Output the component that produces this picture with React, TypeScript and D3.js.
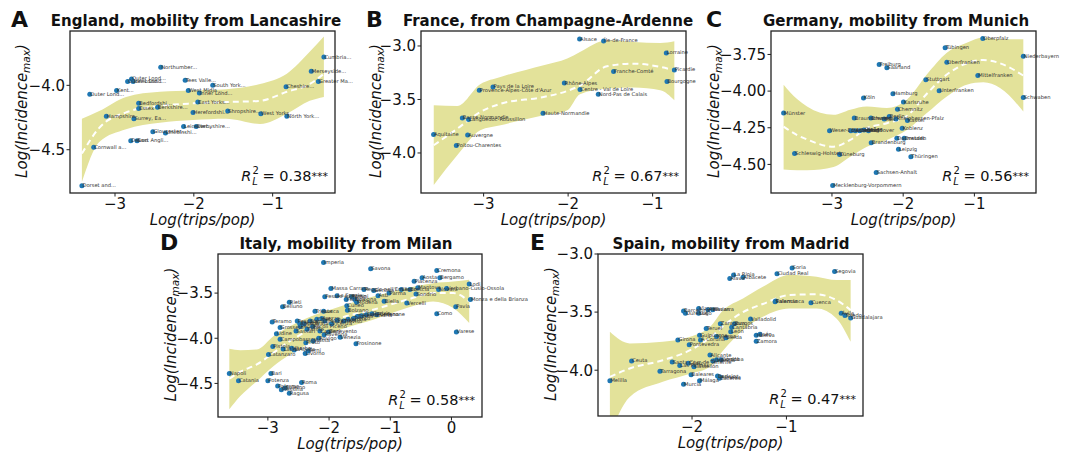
import * as d3 from "d3";
import React, { useEffect, useRef } from "react";

// [name, log(trips/pop), log(incidence max)]
type Pt = [string, number, number];
// [x, lower, mean, upper] of the smoothed fit
type Fit = [number, number, number, number];

const englandPoints: Pt[] = [
  ["Dorset and...", -3.42, -4.78],
  ["Cornwall a...", -3.27, -4.48],
  ["Outer Lond...", -3.32, -4.07],
  ["Hampshire", -3.11, -4.24],
  ["Kent...", -2.98, -4.04],
  ["Outer Lond...", -2.79, -3.95],
  ["Outer Lond...", -2.84, -3.97],
  ["Inner Lond...", -2.77, -3.97],
  ["Devon", -2.8, -4.43],
  ["East Angli...", -2.72, -4.43],
  ["Bedfordshi...", -2.7, -4.14],
  ["Essex", -2.7, -4.18],
  ["Surrey, Ea...", -2.76, -4.26],
  ["Berkshire...", -2.46, -4.17],
  ["Gloucester...", -2.52, -4.36],
  ["Lincolnshi...", -2.36, -4.37],
  ["Northumber...", -2.42, -3.86],
  ["Leicester...", -2.13, -4.32],
  ["Derbyshire...", -1.97, -4.32],
  ["Tees Valle...", -2.11, -3.96],
  ["West Midla...", -2.07, -4.04],
  ["Inner Lond...", -1.93, -4.06],
  ["South York...", -1.76, -4.0],
  ["East Yorks...", -1.95, -4.13],
  ["Herefordshi...", -2.01, -4.21],
  ["Shropshire...", -1.57, -4.2],
  ["West Yorks...", -1.15, -4.22],
  ["North York...", -0.82, -4.24],
  ["Cheshire...", -0.83, -4.01],
  ["Merseyside...", -0.51, -3.89],
  ["Greater Ma...", -0.42, -3.97],
  ["Cumbria...", -0.35, -3.78],
];
const englandFit: Fit[] = [
  [-3.42, -4.75, -4.53, -4.26],
  [-3.2, -4.44, -4.33, -4.2],
  [-2.86, -4.34, -4.21, -4.09],
  [-2.43, -4.29, -4.16, -4.05],
  [-2.01, -4.27, -4.14, -4.04],
  [-1.59, -4.26, -4.13, -4.03],
  [-1.16, -4.3, -4.12, -3.99],
  [-0.82, -4.22, -4.05, -3.91],
  [-0.53, -4.12, -3.99, -3.74],
  [-0.35, -4.09, -3.91, -3.62],
];

const francePoints: Pt[] = [
  ["Alsace", -1.864, -2.935],
  ["Île-de-France", -1.58, -2.953],
  ["Lorraine", -0.838, -3.065],
  ["Picardie", -0.743, -3.224],
  ["Franche-Comté", -1.462, -3.239],
  ["Bourgogne", -0.83, -3.333],
  ["Rhône-Alpes", -2.045, -3.346],
  ["Centre - Val de Loire", -1.859, -3.407],
  ["Nord-Pas de Calais", -1.643, -3.451],
  ["Pays de la Loire", -2.889, -3.383],
  ["Provence-Alpes-Côte d'Azur", -3.051, -3.414],
  ["Haute-Normandie", -2.297, -3.629],
  ["Basse-Normandie", -3.252, -3.673],
  ["Languedoc-Roussillon", -3.178, -3.688],
  ["Aquitaine", -3.592, -3.828],
  ["Auvergne", -3.189, -3.832],
  ["Poitou-Charentes", -3.323, -3.931],
];
const franceFit: Fit[] = [
  [-3.59, -4.3, -3.928, -3.554],
  [-3.31, -4.02, -3.772, -3.56],
  [-3.04, -3.788, -3.617, -3.358],
  [-2.8, -3.74, -3.54, -3.29],
  [-2.29, -3.648, -3.477, -3.18],
  [-2.01, -3.6, -3.42, -3.118],
  [-1.86, -3.45, -3.37, -3.056],
  [-1.54, -3.398, -3.19, -2.947],
  [-1.225, -3.389, -3.165, -2.963],
  [-0.909, -3.414, -3.196, -2.972],
  [-0.743, -3.507, -3.227, -2.956],
];

const germanyPoints: Pt[] = [
  ["Oberpfalz", -0.882, -3.642],
  ["Tübingen", -1.411, -3.704],
  ["Niederbayern", -0.313, -3.762],
  ["Oberfranken", -1.387, -3.803],
  ["Freiburg", -2.337, -3.819],
  ["Saarland", -2.229, -3.841],
  ["Mittelfranken", -0.952, -3.894],
  ["Stuttgart", -1.682, -3.922],
  ["Unterfranken", -1.495, -3.997],
  ["Hamburg", -2.144, -4.018],
  ["Köln", -2.557, -4.047],
  ["Schwaben", -0.313, -4.043],
  ["Karlsruhe", -1.996, -4.075],
  ["Chemnitz", -2.08, -4.123],
  ["Münster", -3.679, -4.15],
  ["Braunschweig", -2.687, -4.184],
  ["Bremen", -2.453, -4.184],
  ["Trier", -2.266, -4.191],
  ["Berlin", -2.196, -4.173],
  ["Rheinhessen-Pfalz", -2.1, -4.19],
  ["Kassel", -1.94, -4.201],
  ["Koblenz", -2.014, -4.253],
  ["Weser-Ems", -3.034, -4.27],
  ["Düsseldorf", -2.734, -4.27],
  ["Arnsberg", -2.673, -4.27],
  ["Detmold", -2.61, -4.27],
  ["Gießen", -2.55, -4.265],
  ["Hannover", -2.487, -4.27],
  ["Darmstadt", -2.089, -4.322],
  ["Dresden", -1.986, -4.322],
  ["Brandenburg", -2.449, -4.352],
  ["Leipzig", -2.066, -4.397],
  ["Thüringen", -1.892, -4.448],
  ["Schleswig-Holstein", -3.525, -4.425],
  ["Lüneburg", -2.893, -4.432],
  ["Sachsen-Anhalt", -2.379, -4.555],
  ["Mecklenburg-Vorpommern", -2.99, -4.644],
];
const germanyFit: Fit[] = [
  [-3.679, -4.534, -4.242, -3.956],
  [-3.49, -4.539, -4.3, -4.054],
  [-3.35, -4.539, -4.33, -4.105],
  [-2.978, -4.517, -4.379, -4.162],
  [-2.743, -4.448, -4.333, -4.127],
  [-2.509, -4.379, -4.253, -4.105],
  [-2.229, -4.333, -4.219, -4.116],
  [-1.948, -4.265, -4.17, -4.059],
  [-1.668, -4.15, -4.018, -3.887],
  [-1.387, -4.036, -3.887, -3.738],
  [-1.107, -3.956, -3.81, -3.67],
  [-0.874, -3.94, -3.788, -3.635],
  [-0.64, -3.979, -3.81, -3.647],
  [-0.313, -4.139, -3.894, -3.647],
];

const italyPoints: Pt[] = [
  ["Imperia", -2.09, -3.16],
  ["Savona", -1.32, -3.23],
  ["Cremona", -0.24, -3.25],
  ["Aosta", -0.48, -3.33],
  ["Bergamo", -0.19, -3.33],
  ["Piacenza", -0.61, -3.37],
  ["Lodi", 0.29, -3.4],
  ["Massa Carrara", -1.97, -3.45],
  ["Reggio nell'Emilia", -1.43, -3.46],
  ["Genova", -1.27, -3.47],
  ["Lecco", -0.82, -3.46],
  ["Brescia", -0.68, -3.46],
  ["Mantova", -0.55, -3.44],
  ["Novara", -0.21, -3.46],
  ["Verbano-Cusio-Ossola", -0.08, -3.45],
  ["Asti", -1.2, -3.53],
  ["Parma", -1.02, -3.5],
  ["Pesaro e Urbino", -2.07, -3.54],
  ["La Spezia", -1.87, -3.53],
  ["Ferrara", -1.72, -3.57],
  ["Rimini", -1.63, -3.54],
  ["Bologna", -1.58, -3.57],
  ["Modena", -1.55, -3.6],
  ["Sondrio", -0.58, -3.51],
  ["Biella", -1.1, -3.59],
  ["Vercelli", -0.73, -3.61],
  ["Monza e della Brianza", 0.31, -3.57],
  ["Pavia", 0.07, -3.65],
  ["Como", -0.24, -3.73],
  ["Varese", 0.08, -3.93],
  ["Rieti", -2.65, -3.6],
  ["Belluno", -2.76, -3.65],
  ["Trieste", -2.23, -3.7],
  ["Lucca", -2.09, -3.7],
  ["Cuneo", -1.71, -3.64],
  ["Bolzano", -1.7, -3.69],
  ["Teramo", -2.93, -3.82],
  ["Grosseto", -2.8, -3.88],
  ["Udine", -2.86, -3.95],
  ["Campobasso", -2.8, -4.01],
  ["Pescara", -2.52, -3.81],
  ["Ancona", -2.48, -3.84],
  ["Perugia", -2.47, -3.87],
  ["Macerata", -2.41, -3.84],
  ["Siena", -2.31, -3.81],
  ["Chieti", -2.2, -3.79],
  ["Arezzo", -2.12, -3.78],
  ["Firenze", -2.07, -3.81],
  ["Vicenza", -1.96, -3.84],
  ["Padova", -1.87, -3.8],
  ["Treviso", -1.76, -3.81],
  ["Verona", -1.69, -3.79],
  ["Trento", -1.6, -3.78],
  ["Torino", -1.54, -3.76],
  ["Alessandria", -1.47, -3.75],
  ["Forlì-Cesena", -1.39, -3.74],
  ["Gorizia", -1.3, -3.73],
  ["Pordenone", -1.22, -3.74],
  ["Sassari", -2.54, -3.92],
  ["Fermo", -2.36, -3.9],
  ["Ascoli Piceno", -2.27, -3.87],
  ["Pistoia", -2.92, -4.09],
  ["Catanzaro", -2.99, -4.18],
  ["Latina", -2.75, -4.12],
  ["Viterbo", -2.61, -4.11],
  ["L'Aquila", -2.57, -4.13],
  ["Terni", -2.34, -4.14],
  ["Livorno", -2.39, -4.17],
  ["Prato", -2.38, -4.05],
  ["Massa", -2.26, -4.03],
  ["Ravenna", -2.08, -3.96],
  ["Rovigo", -2.17, -4.0],
  ["Venezia", -1.82, -3.99],
  ["Frosinone", -1.56, -4.06],
  ["Cagliari", -2.15, -3.92],
  ["Benevento", -2.01, -3.93],
  ["Napoli", -3.63, -4.39],
  ["Catania", -3.48, -4.47],
  ["Bari", -2.95, -4.39],
  ["Potenza", -3.0, -4.47],
  ["Roma", -2.45, -4.49],
  ["Palermo", -2.84, -4.53],
  ["Messina", -2.78, -4.57],
  ["Salerno", -2.72, -4.55],
  ["Ragusa", -2.65, -4.61],
];
const italyFit: Fit[] = [
  [-3.63, -4.787, -4.448, -4.117],
  [-3.45, -4.64, -4.37, -4.133],
  [-3.18, -4.475, -4.29, -4.125],
  [-2.91, -4.309, -4.162, -3.978],
  [-2.64, -4.18, -4.03, -3.868],
  [-2.36, -4.07, -3.923, -3.776],
  [-1.82, -3.905, -3.776, -3.648],
  [-1.28, -3.794, -3.684, -3.537],
  [-0.73, -3.665, -3.574, -3.445],
  [-0.3, -3.592, -3.5, -3.39],
  [0.03, -3.665, -3.5, -3.372],
  [0.29, -3.831, -3.592, -3.353],
];

const spainPoints: Pt[] = [
  ["Soria", -0.94, -3.12],
  ["Segovia", -0.49, -3.15],
  ["Ciudad Real", -1.1, -3.17],
  ["La Rioja", -1.56, -3.18],
  ["Albacete", -1.46, -3.2],
  ["Álava", -1.6, -3.21],
  ["Salamanca", -1.12, -3.41],
  ["Palencia", -1.115, -3.405],
  ["Cuenca", -0.74, -3.42],
  ["Ávila", -0.42, -3.51],
  ["Toledo", -0.38, -3.53],
  ["Guadalajara", -0.32, -3.55],
  ["Barcelona", -2.09, -3.49],
  ["Ourense", -2.07, -3.51],
  ["Vizcaya", -1.93, -3.47],
  ["Lugo", -1.93, -3.51],
  ["Navarra", -1.78, -3.48],
  ["Asturias", -1.83, -3.48],
  ["Teruel", -1.85, -3.64],
  ["Zaragoza", -1.7, -3.6],
  ["Burgos", -1.55, -3.6],
  ["Cantabria", -1.58, -3.63],
  ["Valladolid", -1.38, -3.56],
  ["León", -1.59, -3.67],
  ["Lleida", -1.64, -3.72],
  ["Guipúzcoa", -1.92, -3.7],
  ["A Coruña", -1.91, -3.74],
  ["Girona", -2.15, -3.74],
  ["Pontevedra", -2.03, -3.78],
  ["Huesca", -1.74, -3.71],
  ["Huelva", -1.32, -3.7],
  ["Jaén", -1.28, -3.69],
  ["Zamora", -1.32, -3.75],
  ["Alicante", -1.81, -3.87],
  ["Ceuta", -2.64, -3.92],
  ["Santa Cruz de Tenerife", -2.21, -3.93],
  ["Las Palmas", -2.13, -3.96],
  ["Cádiz", -2.04, -3.94],
  ["Valencia", -1.78, -3.92],
  ["Granada", -1.74, -3.91],
  ["Córdoba", -1.69, -3.91],
  ["Castellón", -1.98, -3.97],
  ["Tarragona", -2.34, -4.01],
  ["Melilla", -2.87, -4.09],
  ["Baleares", -2.01, -4.04],
  ["Badajoz", -1.73, -4.05],
  ["Cáceres", -1.71, -4.07],
  ["Almería", -1.7, -4.06],
  ["Murcia", -2.09, -4.12],
  ["Málaga", -1.92, -4.09],
];
const spainFit: Fit[] = [
  [-2.87, -4.55, -4.058, -3.67],
  [-2.66, -4.23, -3.985, -3.77],
  [-2.31, -4.1, -3.914, -3.756],
  [-2.02, -4.03, -3.828, -3.713],
  [-1.81, -3.97, -3.72, -3.627],
  [-1.67, -3.83, -3.62, -3.483],
  [-1.46, -3.655, -3.5, -3.382],
  [-1.25, -3.54, -3.43, -3.282],
  [-0.97, -3.468, -3.353, -3.18],
  [-0.68, -3.468, -3.347, -3.195],
  [-0.47, -3.554, -3.397, -3.224],
  [-0.32, -3.756, -3.483, -3.224],
];

const r2Values = ["0.38", "0.67", "0.56", "0.58", "0.47"];

interface Panel {
  letter: string;
  title: string;
  points: Pt[];
  fit: Fit[];
  r2: string;
  box: { l: number; r: number; t: number; b: number };
  xDomain: [number, number];
  yDomain: [number, number];
  xTicks: number[];
  yTicks: number[];
  yFmt: string;
  titleX: number;
  letterX: number;
  ylabelX: number;
}

const panels: Panel[] = [
  {
    letter: "A", title: "England, mobility from Lancashire",
    points: englandPoints, fit: englandFit, r2: r2Values[0],
    box: { l: 70, r: 335, t: 31, b: 193 },
    xDomain: [-3.571, -0.209], yDomain: [-4.836, -3.578],
    xTicks: [-3, -2, -1], yTicks: [-4.5, -4.0], yFmt: ".1f",
    titleX: 196, letterX: 11, ylabelX: 27,
  },
  {
    letter: "B", title: "France, from Champagne-Ardenne",
    points: francePoints, fit: franceFit, r2: r2Values[1],
    box: { l: 421, r: 686, t: 31, b: 193 },
    xDomain: [-3.741, -0.605], yDomain: [-4.374, -2.86],
    xTicks: [-3, -2, -1], yTicks: [-4.0, -3.5, -3.0], yFmt: ".1f",
    titleX: 548, letterX: 366, ylabelX: 381,
  },
  {
    letter: "C", title: "Germany, mobility from Munich",
    points: germanyPoints, fit: germanyFit, r2: r2Values[2],
    box: { l: 771, r: 1036, t: 31, b: 193 },
    xDomain: [-3.856, -0.135], yDomain: [-4.695, -3.59],
    xTicks: [-3, -2, -1], yTicks: [-4.5, -4.25, -4.0, -3.75], yFmt: ".2f",
    titleX: 896, letterX: 706, ylabelX: 719,
  },
  {
    letter: "D", title: "Italy, mobility from Milan",
    points: italyPoints, fit: italyFit, r2: r2Values[3],
    box: { l: 218, r: 482, t: 254, b: 417 },
    xDomain: [-3.815, 0.499], yDomain: [-4.872, -3.067],
    xTicks: [-3, -2, -1, 0], yTicks: [-4.5, -4.0, -3.5], yFmt: ".1f",
    titleX: 346, letterX: 160, ylabelX: 176,
  },
  {
    letter: "E", title: "Spain, mobility from Madrid",
    points: spainPoints, fit: spainFit, r2: r2Values[4],
    box: { l: 598, r: 863, t: 254, b: 416 },
    xDomain: [-2.996, -0.189], yDomain: [-4.394, -3.0],
    xTicks: [-2, -1], yTicks: [-4.0, -3.5, -3.0], yFmt: ".1f",
    titleX: 731, letterX: 530, ylabelX: 556,
  },
];

const FONT = "DejaVu Sans";
const BAND = "#e3e29a";
const DOT = "#1f77b4";

const App: React.FC = () => {
  const ref = useRef<SVGSVGElement>(null);

  useEffect(() => {
    if (!ref.current) return;
    const svg = d3.select(ref.current);
    svg.selectAll("*").remove();
    svg.append("rect").attr("width", 1073).attr("height", 454).attr("fill", "white");

    panels.forEach((p, i) => {
      const { l, r, t, b } = p.box;
      const x = d3.scaleLinear().domain(p.xDomain).range([l, r]);
      const y = d3.scaleLinear().domain(p.yDomain).range([b, t]);
      const g = svg.append("g").attr("font-family", FONT);

      const clipId = `clip-${i}`;
      g.append("clipPath").attr("id", clipId)
        .append("rect").attr("x", l).attr("y", t).attr("width", r - l).attr("height", b - t);

      // confidence band + fitted mean
      const area = d3.area<Fit>()
        .x((d) => x(d[0])).y0((d) => y(d[1])).y1((d) => y(d[3]))
        .curve(d3.curveMonotoneX);
      g.append("path").datum(p.fit).attr("d", area)
        .attr("fill", BAND).attr("clip-path", `url(#${clipId})`);

      const line = d3.line<Fit>().x((d) => x(d[0])).y((d) => y(d[2])).curve(d3.curveMonotoneX);
      g.append("path").datum(p.fit).attr("d", line)
        .attr("fill", "none").attr("stroke", "white").attr("stroke-width", 2)
        .attr("stroke-dasharray", "6,4").attr("clip-path", `url(#${clipId})`);

      g.append("g").selectAll("circle").data(p.points).join("circle")
        .attr("cx", (d) => x(d[1])).attr("cy", (d) => y(d[2]))
        .attr("r", 2.5).attr("fill", DOT);

      g.append("g").selectAll("text").data(p.points).join("text")
        .attr("x", (d) => x(d[1]) + 0.5).attr("y", (d) => y(d[2]) + 1.5)
        .attr("font-size", 5.2).attr("fill", "#333")
        .text((d) => d[0]);

      // frame
      g.append("rect").attr("x", l).attr("y", t).attr("width", r - l).attr("height", b - t)
        .attr("fill", "none").attr("stroke", "#222").attr("stroke-width", 1.3);

      // ticks
      const fx = d3.format("d");
      p.xTicks.forEach((v) => {
        g.append("line").attr("x1", x(v)).attr("x2", x(v)).attr("y1", b).attr("y2", b + 3.5)
          .attr("stroke", "#222").attr("stroke-width", 1);
        g.append("text").attr("x", x(v)).attr("y", b + 15.5).attr("text-anchor", "middle")
          .attr("font-size", 15).attr("fill", "#111").text(fx(v));
      });
      const fy = d3.format(p.yFmt);
      p.yTicks.forEach((v) => {
        g.append("line").attr("x1", l).attr("x2", l - 3.5).attr("y1", y(v)).attr("y2", y(v))
          .attr("stroke", "#222").attr("stroke-width", 1);
        g.append("text").attr("x", l - 5).attr("y", y(v) + 5.3).attr("text-anchor", "end")
          .attr("font-size", 15).attr("fill", "#111").text(fy(v));
      });

      // axis labels
      g.append("text").attr("x", (l + r) / 2).attr("y", b + 32).attr("text-anchor", "middle")
        .attr("font-size", 15).attr("font-style", "italic").attr("fill", "#111")
        .text("Log(trips/pop)");

      const yl = g.append("text")
        .attr("transform", `translate(${p.ylabelX},${(t + b) / 2 - 1}) rotate(-90)`)
        .attr("text-anchor", "middle").attr("font-size", 15).attr("font-style", "italic")
        .attr("fill", "#111");
      yl.append("tspan").text("Log(Incidence");
      yl.append("tspan").attr("font-size", 10.5).attr("dy", 3).text("max");
      yl.append("tspan").attr("dy", -3).text(")");

      // title and panel letter
      g.append("text").attr("x", p.titleX).attr("y", t - 5).attr("text-anchor", "middle")
        .attr("font-size", 15).attr("font-weight", "bold").attr("fill", "#111").text(p.title);
      g.append("text").attr("x", p.letterX).attr("y", t - 4)
        .attr("font-size", 22).attr("font-weight", "bold").attr("fill", "#111").text(p.letter);

      // R^2_L annotation
      const rt = g.append("text").attr("x", r - 7).attr("y", b - 12.5)
        .attr("text-anchor", "end").attr("font-size", 14.5).attr("fill", "#111");
      rt.append("tspan").attr("font-style", "italic").text("R");
      rt.append("tspan").attr("font-size", 10).attr("dy", -6.5).attr("dx", 1).text("2");
      rt.append("tspan").attr("font-size", 10).attr("font-style", "italic")
        .attr("dy", 10.5).attr("dx", -6.5).text("L");
      rt.append("tspan").attr("dy", -4).text(` = ${p.r2}`);
      rt.append("tspan").attr("font-size", 11).attr("dy", -1).text("***");
    });
  }, []);

  return (
    <svg
      ref={ref}
      width={1073}
      height={454}
      style={{ position: "absolute", left: 0, top: 0, display: "block" }}
    />
  );
};

export default App;
